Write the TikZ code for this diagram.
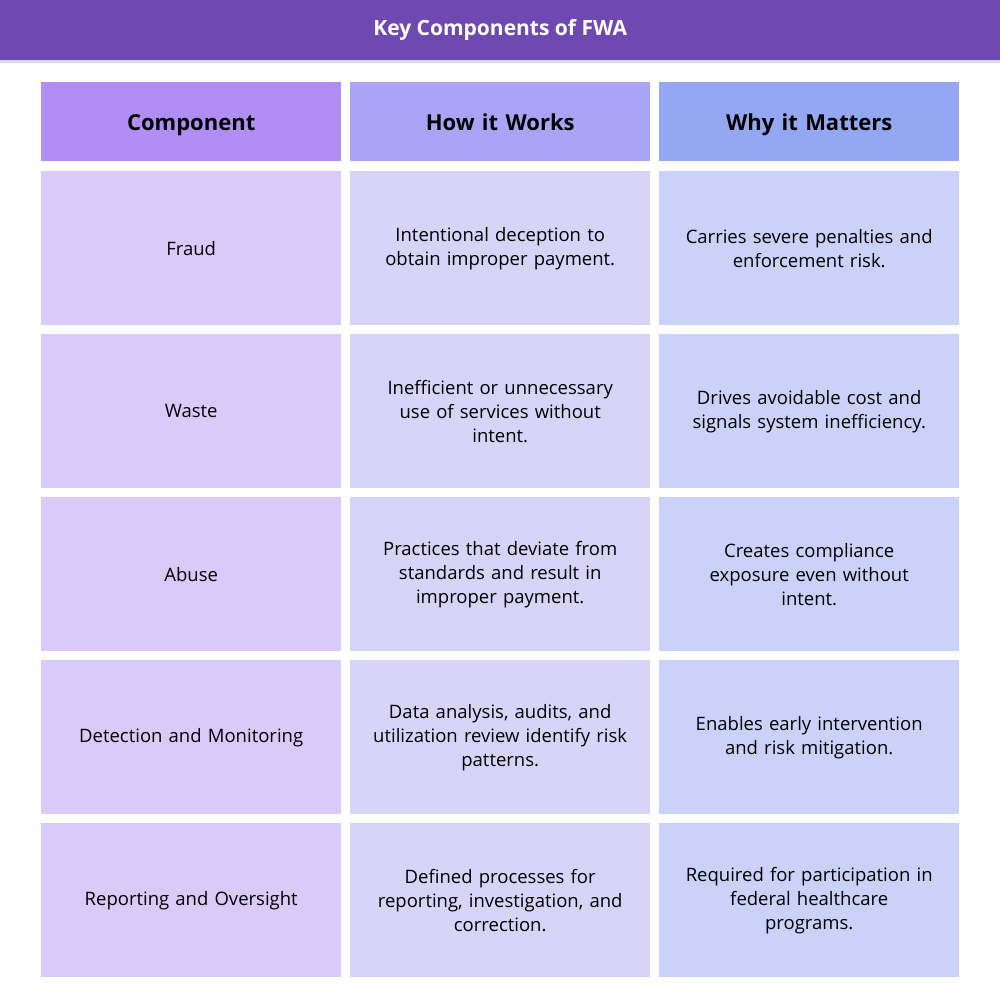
\documentclass[tikz,border=0pt]{standalone}
\usepackage{fontspec}
\setmainfont{Open Sans}
\definecolor{titlebg}{HTML}{6F49B1}
\definecolor{ha}{HTML}{B18EF6}
\definecolor{hb}{HTML}{A9A4F6}
\definecolor{hc}{HTML}{93A7F3}
\definecolor{ba}{HTML}{D9CAF9}
\definecolor{bb}{HTML}{D7D3F9}
\definecolor{bc}{HTML}{CAD2F9}
\begin{document}
\begin{tikzpicture}[x=1pt,y=-1pt,
 cell/.style={anchor=north west,minimum width=300pt,minimum height=154pt,inner sep=0pt,text width=275pt,align=center,font=\fontsize{18.5}{24}\selectfont,text=black},
 head/.style={cell,minimum height=79pt,text height=23pt,text depth=5pt,font=\fontsize{22}{28}\selectfont\bfseries}]
\useasboundingbox (0,0) rectangle (1000,993);
\fill[white] (0,0) rectangle (1000,993);
\fill[black!15] (0,58) rectangle (1000,63);
\node[anchor=north west,minimum width=1000pt,minimum height=60pt,inner sep=0pt,fill=titlebg,text=white,font=\fontsize{21}{26}\selectfont\bfseries] (title) at (0,0) {Key Components of FWA};
\node[head,fill=ha] (h1) at (41,82) {Component};
\node[head,fill=hb] (h2) at (350,82) {How it Works};
\node[head,fill=hc] (h3) at (659,82) {Why it Matters};
\foreach \y/\a/\b/\c [count=\i] in {
171/Fraud/Intentional deception to\\obtain improper payment./Carries severe penalties and\\enforcement risk.,
334/Waste/Inefficient or unnecessary\\use of services without\\intent./Drives avoidable cost and\\signals system inefficiency.,
497/Abuse/Practices that deviate from\\standards and result in\\improper payment./Creates compliance\\exposure even without\\intent.,
660/Detection and Monitoring/Data analysis{,} audits{,} and\\utilization review identify risk\\patterns./Enables early intervention\\and risk mitigation.,
823/Reporting and Oversight/Defined processes for\\reporting{,} investigation{,} and\\correction./Required for participation in\\federal healthcare\\programs.}{
 \node[cell,fill=ba] (r\i a) at (41,\y) {\a};
 \node[cell,fill=bb] (r\i b) at (350,\y) {\b};
 \node[cell,fill=bc] (r\i c) at (659,\y) {\c};
}
\end{tikzpicture}
\end{document}
